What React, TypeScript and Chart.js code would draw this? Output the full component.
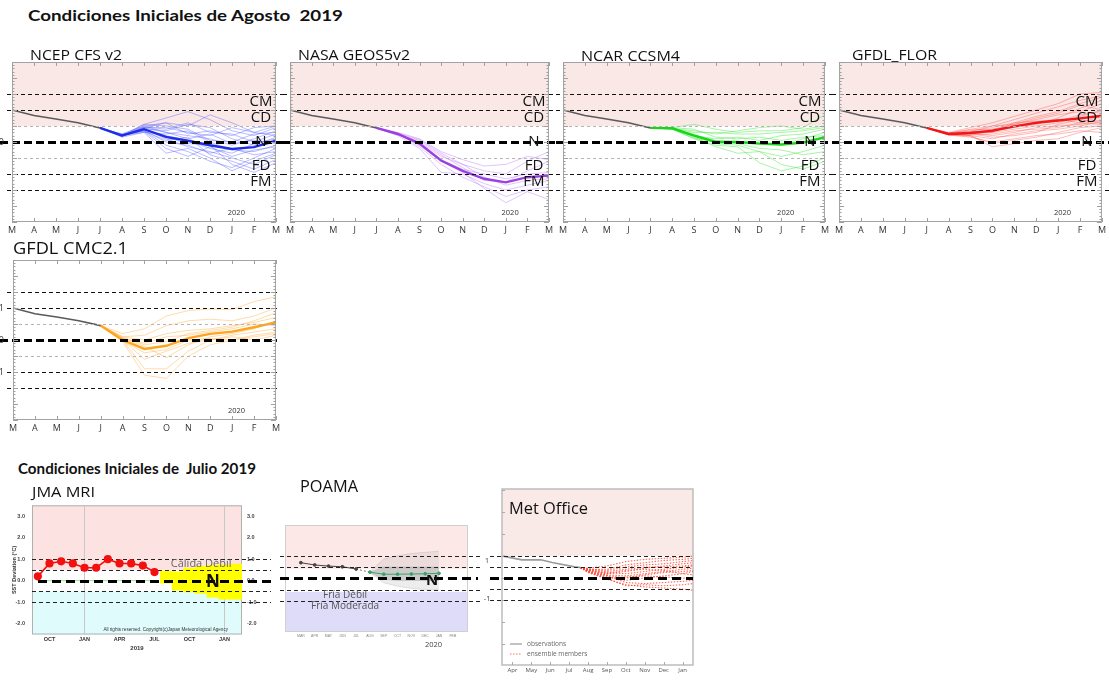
import React, { useEffect, useLayoutEffect, useRef } from "react";
import { Chart, registerables } from "chart.js";

Chart.register(...registerables);

const SANS = "'Open Sans', 'DejaVu Sans', sans-serif";
const LATO = "Lato, 'Open Sans', sans-serif";
const ARIAL = "'Liberation Sans', Arial, sans-serif";

/* ---------------- August 2019 plumes ---------------- */
const plumeMonths = ["M", "A", "M", "J", "J", "A", "S", "O", "N", "D", "J", "F", "M"];
const obsX = [0, 1, 2, 3, 4];
const fcX = [4, 5, 6, 7, 8, 9, 10, 11, 12];
const obsAug = [1.0, 0.83, 0.72, 0.6, 0.44];
const obsCmc = [1.0, 0.82, 0.72, 0.6, 0.45];
const catLabels = ["CM", "CD", "N", "FD", "FM"];
const catValues = [1.25, 0.75, 0, -0.75, -1.25];
const yearLabel = "2020";

const ncepMean = [0.44, 0.2, 0.4, 0.16, 0.04, -0.1, -0.22, -0.16, 0.04];
const ncepMembers = [
  [0.44, 0.22, 0.55, 0.75, 0.95, 0.7, 0.35, 0.2, 0.45],
  [0.44, 0.18, 0.45, 0.6, 0.5, 0.85, 0.6, 0.3, 0.2],
  [0.44, 0.25, 0.5, 0.3, 0.2, 0.1, -0.1, 0.1, 0.35],
  [0.44, 0.2, 0.35, -0.1, -0.3, -0.6, -0.8, -0.5, -0.2],
  [0.44, 0.15, 0.3, -0.35, -0.2, -0.5, -0.9, -0.6, -0.35],
  [0.44, 0.2, 0.42, 0.35, 0.55, 0.45, 0.1, -0.1, 0.15],
  [0.44, 0.22, 0.4, 0.1, -0.15, -0.3, -0.5, -0.7, -0.4],
  [0.44, 0.18, 0.38, 0.2, 0.05, -0.2, -0.35, -0.05, 0.1],
  [0.44, 0.2, 0.46, 0.45, 0.3, 0.2, 0.45, 0.3, 0.5],
  [0.44, 0.25, 0.35, 0.05, 0.15, -0.4, -0.6, -0.85, -0.55],
  [0.44, 0.2, 0.3, 0.25, 0.35, 0.0, -0.25, -0.3, -0.1],
  [0.44, 0.18, 0.55, 0.5, 0.4, 0.05, 0.0, 0.25, 0.3],
  [0.44, 0.22, 0.33, -0.2, -0.45, -0.15, -0.45, -0.25, -0.15],
  [0.44, 0.2, 0.5, 0.6, 0.25, 0.35, 0.2, 0.45, 0.5],
  [0.44, 0.2, 0.4, 0.15, -0.05, -0.1, -0.7, -0.95, -0.65],
  [0.44, 0.2, 0.44, 0.3, 0.1, 0.25, -0.05, 0.05, -0.05],
  [0.44, 0.23, 0.36, 0.0, -0.1, -0.35, -0.2, -0.4, -0.3],
  [0.44, 0.19, 0.47, 0.4, 0.6, 0.3, 0.25, 0.0, 0.25],
];

const nasaMean = [0.44, 0.25, -0.05, -0.58, -0.9, -1.15, -1.26, -1.1, -1.05];
const nasaMembers = [
  [0.44, 0.3, 0.1, -0.3, -0.55, -0.75, -0.7, -0.45, -0.55],
  [0.44, 0.25, 0.0, -0.45, -0.7, -0.9, -1.0, -0.6, -0.3],
  [0.44, 0.2, -0.2, -0.95, -1.0, -1.3, -1.5, -1.35, -1.2],
  [0.44, 0.28, -0.1, -0.6, -0.95, -1.45, -1.9, -1.55, -1.8],
  [0.44, 0.22, 0.05, -0.4, -0.8, -1.2, -1.25, -0.9, -0.6],
  [0.44, 0.26, -0.15, -0.7, -1.1, -1.4, -1.7, -1.5, -1.4],
  [0.44, 0.24, -0.05, -0.55, -0.85, -1.0, -1.15, -1.0, -0.95],
  [0.44, 0.27, 0.08, -0.35, -0.7, -1.1, -1.35, -1.2, -1.15],
];

const ncarMean = [0.44, 0.43, 0.2, 0.0, 0.0, -0.05, -0.08, -0.02, 0.15];
const ncarMembers = [
  [0.44, 0.45, 0.55, 0.4, 0.3, 0.35, 0.35, 0.45, 0.85],
  [0.44, 0.42, 0.35, 0.25, 0.35, 0.45, 0.5, 0.4, 0.5],
  [0.44, 0.4, 0.25, -0.05, -0.1, -0.3, -0.7, -0.85, -0.6],
  [0.44, 0.44, 0.2, 0.1, 0.15, 0.05, 0.2, 0.25, 0.4],
  [0.44, 0.41, 0.1, -0.1, -0.15, -0.65, -0.9, -0.75, -0.5],
  [0.44, 0.43, 0.3, 0.3, 0.25, 0.25, 0.3, 0.35, 0.45],
  [0.44, 0.42, 0.15, -0.15, -0.35, -0.3, -0.45, -0.3, -0.1],
  [0.44, 0.44, 0.22, 0.05, 0.0, 0.0, -0.1, 0.1, 0.3],
  [0.44, 0.4, 0.12, 0.0, -0.05, -0.2, -0.25, -0.4, -0.3],
  [0.44, 0.45, 0.4, 0.15, 0.1, 0.15, 0.05, 0.15, 0.2],
];

const florMean = [0.44, 0.25, 0.28, 0.35, 0.49, 0.6, 0.67, 0.74, 0.82];
const florMembers = [
  [0.44, 0.3, 0.45, 0.6, 0.8, 1.0, 1.2, 1.5, 1.55],
  [0.44, 0.28, 0.4, 0.5, 0.7, 0.9, 1.1, 1.3, 1.45],
  [0.44, 0.25, 0.2, -0.15, -0.05, 0.05, 0.1, 0.3, 0.45],
  [0.44, 0.22, 0.15, 0.0, 0.1, 0.2, 0.25, 0.35, 0.3],
  [0.44, 0.26, 0.3, 0.4, 0.55, 0.7, 0.85, 0.95, 1.2],
  [0.44, 0.24, 0.25, 0.3, 0.4, 0.5, 0.6, 0.8, 1.0],
  [0.44, 0.27, 0.35, 0.45, 0.6, 0.65, 0.7, 0.6, 0.55],
  [0.44, 0.23, 0.2, 0.1, 0.25, 0.35, 0.4, 0.5, 0.65],
  [0.44, 0.25, 0.3, 0.35, 0.45, 0.55, 0.75, 1.05, 1.3],
  [0.44, 0.26, 0.28, 0.2, 0.3, 0.45, 0.5, 0.55, 0.7],
  [0.44, 0.24, 0.32, 0.5, 0.55, 0.75, 0.9, 1.15, 1.0],
  [0.44, 0.22, 0.18, -0.05, 0.05, 0.15, 0.3, 0.45, 0.5],
  [0.44, 0.28, 0.38, 0.4, 0.5, 0.6, 0.65, 0.85, 0.95],
  [0.44, 0.25, 0.22, 0.25, 0.35, 0.4, 0.45, 0.6, 0.8],
  [0.44, 0.27, 0.33, 0.3, 0.6, 0.8, 0.95, 1.2, 1.4],
  [0.44, 0.23, 0.26, 0.15, 0.2, 0.3, 0.55, 0.7, 0.6],
];

const cmcMean = [0.45, 0.0, -0.28, -0.18, 0.06, 0.19, 0.26, 0.4, 0.55];
const cmcMembers = [
  [0.45, 0.2, 0.35, 0.75, 0.92, 0.97, 0.95, 1.2, 1.35],
  [0.45, 0.1, 0.15, 0.45, 0.6, 0.65, 0.6, 0.75, 1.0],
  [0.45, -0.05, -1.1, -1.2, -0.5, -0.15, 0.0, 0.1, 0.2],
  [0.45, 0.0, -0.9, -0.9, -0.35, 0.0, 0.15, 0.25, 0.35],
  [0.45, 0.05, -0.2, -0.55, -0.15, 0.1, 0.2, 0.35, 0.6],
  [0.45, 0.1, 0.0, 0.2, 0.3, 0.35, 0.45, 0.55, 0.7],
  [0.45, -0.02, -0.4, -0.3, 0.0, 0.05, 0.0, 0.15, 0.25],
  [0.45, 0.05, -0.1, 0.1, 0.15, 0.25, 0.35, 0.5, 0.45],
  [0.45, 0.0, -0.6, -0.35, -0.1, 0.0, 0.1, 0.0, 0.15],
  [0.45, 0.08, -0.15, -0.05, 0.2, 0.3, 0.4, 0.6, 0.85],
];

/* ---------------- JMA MRI (July 2019) ---------------- */
const jmaMonths = ["SEP", "OCT", "NOV", "DEC", "JAN", "FEB", "MAR", "APR", "MAY", "JUN", "JUL", "AUG", "SEP", "OCT", "NOV", "DEC", "JAN", "FEB"];
const jmaShownTicks = ["OCT", "JAN", "APR", "JUL"];
const jmaYTicks = [-2, -1, 0, 1, 2, 3];
const jmaObs = [0.2, 0.8, 0.9, 0.8, 0.6, 0.6, 1.0, 0.8, 0.8, 0.7, 0.4];
const jmaBaseline = [0, 0, 0, 0, 0, 0, 0, 0, 0, 0, 0];
const jmaFcStart = 11;
const jmaLow = [-0.12, -0.44, -0.52, -0.59, -0.77, -0.86, -0.86];
const jmaHigh = [0.44, 0.41, 0.59, 0.67, 0.71, 0.74, 0.77];

/* ---------------- POAMA ---------------- */
const poamaMonths = ["MAR", "APR", "MAY", "JUN", "JUL", "AUG", "SEP", "OCT", "NOV", "DEC", "JAN", "FEB"];
const poamaObsX = [0, 1, 2, 3, 4];
const poamaObs = [0.69, 0.59, 0.54, 0.51, 0.41];
const poamaLinkX = [4, 5];
const poamaLink = [0.41, 0.27];
const poamaFcX = [5, 6, 7, 8, 9, 10];
const poamaFc = [0.27, 0.18, 0.18, 0.19, 0.2, 0.22];
const poamaOuterHi = [0.3, 0.85, 1.0, 1.1, 1.15, 1.2];
const poamaOuterLo = [0.25, -0.2, -0.35, -0.45, -0.5, -0.5];
const poamaInnerHi = [0.28, 0.5, 0.5, 0.5, 0.5, 0.5];
const poamaInnerLo = [0.26, -0.05, -0.1, -0.1, -0.1, -0.1];

/* ---------------- Met Office ---------------- */
const moMonths = ["Apr", "May", "Jun", "Jul", "Aug", "Sep", "Oct", "Nov", "Dec", "Jan"];
const moObsX = [-0.5, 0.5, 1.5, 2.1, 3.3, 3.6];
const moObs = [1.0, 0.83, 0.83, 0.71, 0.51, 0.48];
const moFcX = [3.6, 4, 5, 6, 7, 8, 9, 9.55];
const moMembers = [
  [0.48, 0.45, 0.55, 0.75, 0.85, 0.9, 0.95, 1.0],
  [0.48, 0.4, 0.4, 0.6, 0.7, 0.8, 0.85, 0.9],
  [0.48, 0.35, 0.2, 0.3, 0.45, 0.55, 0.65, 0.7],
  [0.48, 0.3, 0.05, -0.1, 0.0, 0.1, 0.2, 0.3],
  [0.48, 0.25, -0.05, -0.3, -0.4, -0.45, -0.5, -0.55],
  [0.48, 0.35, 0.15, 0.1, 0.2, 0.3, 0.4, 0.45],
  [0.48, 0.3, 0.1, -0.2, -0.25, -0.2, -0.15, -0.1],
  [0.48, 0.4, 0.3, 0.4, 0.5, 0.5, 0.55, 0.6],
  [0.48, 0.3, 0.0, 0.05, 0.1, 0.05, 0.0, -0.05],
  [0.48, 0.38, 0.25, 0.2, 0.3, 0.4, 0.5, 0.55],
  [0.48, 0.28, -0.02, -0.35, -0.3, -0.35, -0.3, -0.25],
  [0.48, 0.42, 0.35, 0.5, 0.6, 0.65, 0.75, 0.8],
  [0.48, 0.33, 0.12, 0.0, 0.15, 0.25, 0.3, 0.35],
  [0.48, 0.36, 0.22, 0.35, 0.4, 0.35, 0.2, 0.15],
];

/* ---------------- helpers ---------------- */
function dashLine(ctx: any, y: number, x0: number, x1: number, color: string, width: number, dash: number[]) {
  ctx.save();
  ctx.beginPath();
  ctx.setLineDash(dash);
  ctx.strokeStyle = color;
  ctx.lineWidth = width;
  const yy = width % 2 === 1 ? Math.round(y) + 0.5 : Math.round(y);
  ctx.moveTo(x0, yy);
  ctx.lineTo(x1, yy);
  ctx.stroke();
  ctx.restore();
}

function text(ctx: any, s: string, x: number, y: number, font: string, color: string, align = "center", baseline = "middle") {
  ctx.save();
  ctx.font = font;
  ctx.fillStyle = color;
  ctx.textAlign = align;
  ctx.textBaseline = baseline;
  ctx.fillText(s, x, y);
  ctx.restore();
}

const pts = (xs: number[], vs: number[]) => vs.map((v, i) => ({ x: xs[i], y: v }));

type PlumeOpts = {
  padL: number;
  padR: number;
  band: boolean;
  labels: boolean;
  edgeLabels: number[];
  lineStart: number;
  lineToCanvas: boolean;
};

function plumePlugin(o: PlumeOpts) {
  return {
    id: "plume",
    beforeDatasetsDraw(chart: any) {
      const { ctx, chartArea: a } = chart;
      const y = chart.scales.y;
      if (o.band) {
        ctx.save();
        ctx.fillStyle = "#f9e8e5";
        const yb = y.getPixelForValue(0.5);
        ctx.fillRect(a.left, a.top, a.right - a.left, yb - a.top);
        ctx.restore();
      }
    },
    afterDatasetsDraw(chart: any) {
      const { ctx, chartArea: a, width } = chart;
      const { x, y } = chart.scales;
      const xEnd = o.lineToCanvas ? width : a.right + 1;
      for (const v of [0.5, -0.5]) dashLine(ctx, y.getPixelForValue(v), a.left, a.right, "#b4b4b4", 1, [3, 3]);
      for (const v of [1.5, 1, -1, -1.5]) dashLine(ctx, y.getPixelForValue(v), o.lineStart, xEnd, "#111", 1, [4, 3]);
      dashLine(ctx, y.getPixelForValue(0), 0, xEnd, "#000", 3, [8, 4]);

      // frame
      ctx.save();
      ctx.strokeStyle = "#a3a3a3";
      ctx.lineWidth = 1;
      ctx.strokeRect(a.left + 0.5, a.top + 0.5, a.right - a.left - 1, a.bottom - a.top - 1);
      // inner ticks
      ctx.strokeStyle = "#a0a0a0";
      ctx.beginPath();
      for (let k = Math.ceil(y.min * 10); k <= Math.floor(y.max * 10); k++) {
        const py = Math.round(y.getPixelForValue(k / 10)) + 0.5;
        const len = k % 5 === 0 ? 5 : 2.5;
        ctx.moveTo(a.left, py);
        ctx.lineTo(a.left + len, py);
        ctx.moveTo(a.right, py);
        ctx.lineTo(a.right - len, py);
      }
      for (let i = 0; i < plumeMonths.length; i++) {
        const px = Math.round(x.getPixelForValue(i)) + 0.5;
        ctx.moveTo(px, a.bottom);
        ctx.lineTo(px, a.bottom - 4);
        ctx.moveTo(px, a.top);
        ctx.lineTo(px, a.top + 4);
      }
      ctx.stroke();
      ctx.restore();

      if (o.labels) {
        catLabels.forEach((s, i) => {
          text(ctx, s, a.right - 15, y.getPixelForValue(catValues[i]), `15px ${SANS}`, "#111");
        });
      }
      for (const v of o.edgeLabels) {
        text(ctx, String(v), 4, y.getPixelForValue(v), `9px ${SANS}`, "#333", "right");
      }
      text(ctx, yearLabel, x.getPixelForValue(10.2), y.getPixelForValue(-2.2), `7.5px ${SANS}`, "#333");
    },
  };
}

function plumeConfig(obs: number[], members: number[][], mean: number[], memberColor: string, meanColor: string, o: PlumeOpts) {
  const datasets = [
    { data: pts(obsX, obs), borderColor: "#5a5a5a", borderWidth: 1.6, pointRadius: 0, order: 0 },
    { data: pts(fcX, mean), borderColor: meanColor, borderWidth: 2.4, pointRadius: 0, order: 1 },
    ...members.map((m) => ({ data: pts(fcX, m), borderColor: memberColor, borderWidth: 1, pointRadius: 0, order: 2 })),
  ];
  return {
    type: "line",
    data: { datasets },
    options: {
      animation: false,
      responsive: false,
      events: [],
      layout: { padding: { left: o.padL, right: o.padR, top: 2, bottom: 0 } },
      plugins: { legend: { display: false }, tooltip: { enabled: false } },
      scales: {
        x: {
          type: "linear",
          min: 0,
          max: 12,
          afterFit: (s: any) => {
            s.height = 18;
          },
          afterBuildTicks: (s: any) => {
            s.ticks = plumeMonths.map((_, i) => ({ value: i }));
          },
          ticks: {
            autoSkip: false,
            maxRotation: 0,
            padding: 3,
            font: { size: 9, family: SANS },
            color: "#333",
            callback: (v: any) => plumeMonths[v],
          },
          grid: { display: false, drawTicks: false },
          border: { display: false },
        },
        y: { display: false, min: -2.5, max: 2.5 },
      },
    },
    plugins: [plumePlugin(o)],
  };
}

function jmaConfig() {
  const bars = jmaMonths.map((_, i) => (i >= jmaFcStart ? [jmaLow[i - jmaFcStart], jmaHigh[i - jmaFcStart]] : null));
  const tickFont = { size: 5.5, weight: "bold", family: ARIAL };
  const yTicks = (s: any) => {
    s.ticks = jmaYTicks.map((v) => ({ value: v }));
  };
  return {
    type: "bar",
    data: {
      labels: jmaMonths,
      datasets: [
        { type: "line", data: jmaObs, borderColor: "#f21010", backgroundColor: "#f21010", borderWidth: 1.6, pointRadius: 3.3, order: 0 },
        { type: "line", data: jmaBaseline, borderColor: "#8fe88f", borderWidth: 1, pointRadius: 0, order: 1 },
        { type: "bar", data: bars, backgroundColor: "#ffff00", barPercentage: 1, categoryPercentage: 1, order: 2 },
      ],
    },
    options: {
      animation: false,
      responsive: false,
      events: [],
      layout: { padding: { left: 0, right: 0, top: 4.5, bottom: 0 } },
      plugins: { legend: { display: false }, tooltip: { enabled: false } },
      scales: {
        x: {
          type: "category",
          offset: true,
          afterFit: (s: any) => {
            s.height = 25.5;
          },
          ticks: {
            autoSkip: false,
            maxRotation: 0,
            padding: 2,
            font: tickFont,
            color: "#333",
            callback: (_v: any, i: number) => (jmaShownTicks.includes(jmaMonths[i]) ? jmaMonths[i] : ""),
          },
          grid: {
            offset: false,
            drawTicks: false,
            color: (c: any) => (jmaMonths[c.index] === "JAN" ? "#c8c8c8" : "rgba(0,0,0,0)"),
          },
          border: { display: false },
          title: { display: true, text: "2019", font: { size: 6, weight: "bold", family: ARIAL }, color: "#333", padding: { top: 1, bottom: 8 } },
        },
        y: {
          position: "left",
          min: -2.5,
          max: 3.5,
          afterFit: (s: any) => {
            s.width = 32;
          },
          afterBuildTicks: yTicks,
          ticks: { padding: 7, font: tickFont, color: "#444", callback: (v: any) => Number(v).toFixed(1) },
          grid: { display: false, drawTicks: false },
          border: { display: false },
          title: { display: true, text: "SST Deviation (°C)", font: { size: 5.5, weight: "bold", family: ARIAL }, color: "#333", padding: { top: 11, bottom: 0 } },
        },
        y2: {
          position: "right",
          min: -2.5,
          max: 3.5,
          afterFit: (s: any) => {
            s.width = 33;
          },
          afterBuildTicks: yTicks,
          ticks: { padding: 5, font: tickFont, color: "#444", callback: (v: any) => Number(v).toFixed(1) },
          grid: { display: false, drawTicks: false },
          border: { display: false },
        },
      },
    },
    plugins: [
      {
        id: "jma",
        beforeDraw(chart: any) {
          const { ctx, chartArea: a } = chart;
          const y = chart.scales.y;
          ctx.save();
          ctx.fillStyle = "#fde2e2";
          ctx.fillRect(a.left, a.top, a.right - a.left, y.getPixelForValue(0.5) - a.top);
          ctx.fillStyle = "#dffbfb";
          const yc = y.getPixelForValue(-0.5);
          ctx.fillRect(a.left, yc, a.right - a.left, a.bottom - yc);
          ctx.strokeStyle = "#b0b0b0";
          ctx.lineWidth = 1;
          ctx.strokeRect(a.left + 0.5, a.top + 0.5, a.right - a.left - 1, a.bottom - a.top - 1);
          ctx.restore();
        },
        beforeDatasetDraw(chart: any, args: any) {
          if (args.index !== 0) return;
          const { ctx, chartArea: a, width } = chart;
          const y = chart.scales.y;
          for (const v of [1, 0.5, -0.5, -1]) dashLine(ctx, y.getPixelForValue(v), a.left, width - 4, "#222", 1, [4, 3]);
          dashLine(ctx, y.getPixelForValue(0), a.left + 6, width - 4, "#000", 3, [9, 5]);
        },
        afterDatasetsDraw(chart: any) {
          const { ctx, chartArea: a } = chart;
          const { x, y } = chart.scales;
          text(ctx, "Cálida Débil", x.getPixelForValue(14), y.getPixelForValue(0.78), `11px ${SANS}`, "#666");
          text(ctx, "N", x.getPixelForValue(15), y.getPixelForValue(-0.05), `bold 17px ${SANS}`, "#111");
          text(ctx, "All rights reserved. Copyright(c)Japan Meteorological Agency", a.right - 14, a.bottom - 5, `4.6px ${ARIAL}`, "#333", "right");
        },
      },
    ],
  };
}

function poamaConfig() {
  return {
    type: "line",
    data: {
      datasets: [
        { data: pts(poamaObsX, poamaObs), borderColor: "#444", backgroundColor: "#444", borderWidth: 1, pointRadius: 1.4, order: 0 },
        { data: pts(poamaLinkX, poamaLink), borderColor: "#777", borderWidth: 1, borderDash: [2, 2], pointRadius: 0, order: 1 },
        { data: pts(poamaFcX, poamaFc), borderColor: "#3f9f6a", backgroundColor: "#3f9f6a", borderWidth: 1, pointRadius: 1.4, order: 0 },
        { data: pts(poamaFcX, poamaOuterHi), borderColor: "rgba(160,160,160,0.5)", borderWidth: 0.6, pointRadius: 0, fill: "+1", backgroundColor: "rgba(175,175,175,0.22)", order: 3 },
        { data: pts(poamaFcX, poamaOuterLo), borderColor: "rgba(160,160,160,0.5)", borderWidth: 0.6, pointRadius: 0, order: 3 },
        { data: pts(poamaFcX, poamaInnerHi), borderColor: "rgba(140,140,140,0.4)", borderWidth: 0.6, pointRadius: 0, fill: "+1", backgroundColor: "rgba(150,150,150,0.4)", order: 2 },
        { data: pts(poamaFcX, poamaInnerLo), borderColor: "rgba(140,140,140,0.4)", borderWidth: 0.6, pointRadius: 0, order: 2 },
      ],
    },
    options: {
      animation: false,
      responsive: false,
      events: [],
      layout: { padding: { left: 4, right: 14, top: 7, bottom: 0 } },
      plugins: { legend: { display: false }, tooltip: { enabled: false } },
      scales: {
        x: {
          type: "linear",
          min: -1.15,
          max: 12.1,
          afterFit: (s: any) => {
            s.height = 18;
          },
          afterBuildTicks: (s: any) => {
            s.ticks = poamaMonths.map((_, i) => ({ value: i }));
          },
          ticks: { autoSkip: false, maxRotation: 0, padding: 2, font: { size: 3.5, family: ARIAL }, color: "#888", callback: (v: any) => poamaMonths[v] },
          grid: { display: false, drawTicks: false },
          border: { display: false },
        },
        y: { display: false, min: -2.38, max: 2.36 },
      },
    },
    plugins: [
      {
        id: "poama",
        beforeDraw(chart: any) {
          const { ctx, chartArea: a } = chart;
          const y = chart.scales.y;
          ctx.save();
          ctx.fillStyle = "#fde8e8";
          ctx.fillRect(a.left, a.top, a.right - a.left, y.getPixelForValue(0.42) - a.top);
          ctx.fillStyle = "#dedcf9";
          const yc = y.getPixelForValue(-0.6);
          ctx.fillRect(a.left, yc, a.right - a.left, a.bottom - yc);
          ctx.strokeStyle = "#d0d0d0";
          ctx.lineWidth = 1;
          ctx.strokeRect(a.left + 0.5, a.top + 0.5, a.right - a.left - 1, a.bottom - a.top - 1);
          ctx.restore();
        },
        afterDatasetsDraw(chart: any) {
          const { ctx, chartArea: a, width } = chart;
          const { x, y } = chart.scales;
          for (const v of [1, 0.5, -0.5, -1]) dashLine(ctx, y.getPixelForValue(v), 0, width, "#222", 1, [4, 3]);
          dashLine(ctx, y.getPixelForValue(0), 0, width - 4, "#000", 3, [9, 5]);
          text(ctx, "Fría Débil", x.getPixelForValue(3.2), y.getPixelForValue(-0.75), `10px ${SANS}`, "#555");
          text(ctx, "Fría Moderada", x.getPixelForValue(3.2), y.getPixelForValue(-1.25), `10px ${SANS}`, "#555");
          text(ctx, "N", x.getPixelForValue(9.5), y.getPixelForValue(-0.1), `bold 15px ${SANS}`, "#111");
          text(ctx, yearLabel, x.getPixelForValue(9.6), a.bottom + 13, `7.5px ${SANS}`, "#444");
        },
      },
    ],
  };
}

function metOfficeConfig() {
  return {
    type: "line",
    data: {
      datasets: [
        { data: pts(moObsX, moObs), borderColor: "#9a9a9a", borderWidth: 1.6, pointRadius: 0, order: 0 },
        ...moMembers.map((m) => ({ data: pts(moFcX, m), borderColor: "rgba(250,70,50,0.8)", borderWidth: 1.1, borderDash: [1.5, 1.5], pointRadius: 0, order: 1 })),
      ],
    },
    options: {
      animation: false,
      responsive: false,
      events: [],
      layout: { padding: { left: 20, right: 7, top: 7, bottom: 0 } },
      plugins: { legend: { display: false }, tooltip: { enabled: false } },
      scales: {
        x: {
          type: "linear",
          min: -0.55,
          max: 9.55,
          afterFit: (s: any) => {
            s.height = 15;
          },
          afterBuildTicks: (s: any) => {
            s.ticks = moMonths.map((_, i) => ({ value: i }));
          },
          ticks: { autoSkip: false, maxRotation: 0, padding: 2, font: { size: 6, family: SANS }, color: "#555", callback: (v: any) => moMonths[v] },
          grid: { display: false, drawTicks: false },
          border: { display: false },
        },
        y: { display: false, min: -3.95, max: 4.05 },
      },
    },
    plugins: [
      {
        id: "metoffice",
        beforeDraw(chart: any) {
          const { ctx, chartArea: a } = chart;
          const { x, y } = chart.scales;
          ctx.save();
          ctx.fillStyle = "#f9e9e7";
          ctx.fillRect(a.left, a.top, a.right - a.left, y.getPixelForValue(1) - a.top);
          ctx.strokeStyle = "#bdbdbd";
          ctx.lineWidth = 1.5;
          ctx.strokeRect(a.left, a.top, a.right - a.left, a.bottom - a.top);
          ctx.lineWidth = 1;
          ctx.strokeStyle = "#aaa";
          ctx.beginPath();
          for (let k = -3; k <= 4; k++) {
            const py = Math.round(y.getPixelForValue(k)) + 0.5;
            ctx.moveTo(a.left, py);
            ctx.lineTo(a.left + 3, py);
          }
          for (let i = 0; i < moMonths.length; i++) {
            const px = Math.round(x.getPixelForValue(i)) + 0.5;
            ctx.moveTo(px, a.bottom);
            ctx.lineTo(px, a.bottom - 3);
          }
          ctx.stroke();
          ctx.restore();
        },
        afterDatasetsDraw(chart: any) {
          const { ctx, chartArea: a } = chart;
          const y = chart.scales.y;
          for (const v of [1, 0.5, -0.5, -1]) dashLine(ctx, y.getPixelForValue(v), 8, a.right, "#222", 1, [4, 3]);
          dashLine(ctx, y.getPixelForValue(0), 8, a.right, "#000", 3, [9, 5]);
          text(ctx, "1", a.left - 15, y.getPixelForValue(0.78), `7px ${SANS}`, "#333");
          text(ctx, "-1", a.left - 15, y.getPixelForValue(-0.95), `7px ${SANS}`, "#333");
          // legend
          const l0 = a.left + 8;
          const ly1 = a.bottom - 21;
          const ly2 = a.bottom - 11;
          ctx.save();
          ctx.strokeStyle = "#999";
          ctx.lineWidth = 1.2;
          ctx.beginPath();
          ctx.moveTo(l0, ly1);
          ctx.lineTo(l0 + 12, ly1);
          ctx.stroke();
          ctx.strokeStyle = "rgba(250,70,50,0.8)";
          ctx.setLineDash([1.5, 1.5]);
          ctx.beginPath();
          ctx.moveTo(l0, ly2);
          ctx.lineTo(l0 + 12, ly2);
          ctx.stroke();
          ctx.restore();
          text(ctx, "observations", l0 + 17, ly1, `6.5px ${SANS}`, "#666", "left");
          text(ctx, "ensemble members", l0 + 17, ly2, `6.5px ${SANS}`, "#666", "left");
        },
      },
    ],
  };
}

/* ---------------- components ---------------- */
function ChartCanvas({ x, y, w, h, make }: { x: number; y: number; w: number; h: number; make: () => any }) {
  const ref = useRef<HTMLCanvasElement>(null);
  useEffect(() => {
    const chart = new Chart(ref.current as HTMLCanvasElement, make());
    return () => chart.destroy();
  }, []);
  return <canvas ref={ref} width={w} height={h} style={{ position: "absolute", left: x, top: y, width: w, height: h }} />;
}

function FitText({ left, top, size, width, children, bold = false, family = SANS, color = "#111" }: any) {
  const ref = useRef<HTMLDivElement>(null);
  useLayoutEffect(() => {
    const el = ref.current as HTMLDivElement;
    el.style.transform = "none";
    const w = el.getBoundingClientRect().width;
    if (w > 0) el.style.transform = `scaleX(${width / w})`;
  }, []);
  return (
    <div
      ref={ref}
      style={{
        position: "absolute",
        left,
        top,
        fontSize: size,
        lineHeight: 1,
        fontWeight: bold ? 700 : 400,
        fontFamily: family,
        whiteSpace: "pre",
        transformOrigin: "0 0",
        color,
      }}
    >
      {children}
    </div>
  );
}

const topOpts = (padL: number, padR: number, lineStart: number): PlumeOpts => ({
  padL,
  padR,
  band: true,
  labels: true,
  edgeLabels: padL > 10 ? [0] : [],
  lineStart,
  lineToCanvas: true,
});

export default function App() {
  return (
    <div style={{ position: "absolute", left: 0, top: 0, width: 1109, height: 680, overflow: "hidden", background: "#fff" }}>
      <ChartCanvas x={0} y={60} w={283} h={180} make={() => plumeConfig(obsAug, ncepMembers, ncepMean, "rgba(70,80,255,0.38)", "#1f2ee6", topOpts(12, 5, 7))} />
      <ChartCanvas x={283} y={60} w={273} h={180} make={() => plumeConfig(obsAug, nasaMembers, nasaMean, "rgba(180,110,245,0.4)", "#9b3fe0", topOpts(4, 3, 0))} />
      <ChartCanvas x={556} y={60} w={276} h={180} make={() => plumeConfig(obsAug, ncarMembers, ncarMean, "rgba(60,230,60,0.45)", "#19d419", topOpts(3, 7, 0))} />
      <ChartCanvas x={832} y={60} w={277} h={180} make={() => plumeConfig(obsAug, florMembers, florMean, "rgba(255,70,70,0.38)", "#f01818", topOpts(5, 5, 0))} />
      <ChartCanvas
        x={0}
        y={258}
        w={283}
        h={180}
        make={() =>
          plumeConfig(obsCmc, cmcMembers, cmcMean, "rgba(255,180,80,0.48)", "#ffa41c", {
            padL: 13,
            padR: 5,
            band: false,
            labels: false,
            edgeLabels: [1, 0, -1],
            lineStart: 7,
            lineToCanvas: false,
          })
        }
      />
      <ChartCanvas x={0} y={495} w={275} h={165} make={jmaConfig} />
      <ChartCanvas x={280} y={518} w={202} h={132} make={poamaConfig} />
      <ChartCanvas x={482} y={482} w={218} h={198} make={metOfficeConfig} />

      <FitText left={28} top={7.5} size={15} width={315} bold family={LATO}>
        {"Condiciones Iniciales de Agosto  2019"}
      </FitText>
      <FitText left={30} top={47.4} size={15} width={92}>NCEP CFS v2</FitText>
      <FitText left={298} top={47.4} size={15} width={112}>NASA GEOS5v2</FitText>
      <FitText left={581} top={48} size={15} width={99}>NCAR CCSM4</FitText>
      <FitText left={852} top={47.4} size={15} width={85}>GFDL_FLOR</FitText>
      <FitText left={13} top={239} size={17} width={115}>GFDL CMC2.1</FitText>
      <FitText left={18} top={460.7} size={15} width={238} bold family={LATO}>
        {"Condiciones Iniciales de  Julio 2019"}
      </FitText>
      <FitText left={32} top={484} size={15} width={63}>JMA MRI</FitText>
      <FitText left={300} top={479.4} size={15.5} width={58}>POAMA</FitText>
      <FitText left={509} top={500} size={16} width={79}>Met Office</FitText>
    </div>
  );
}
